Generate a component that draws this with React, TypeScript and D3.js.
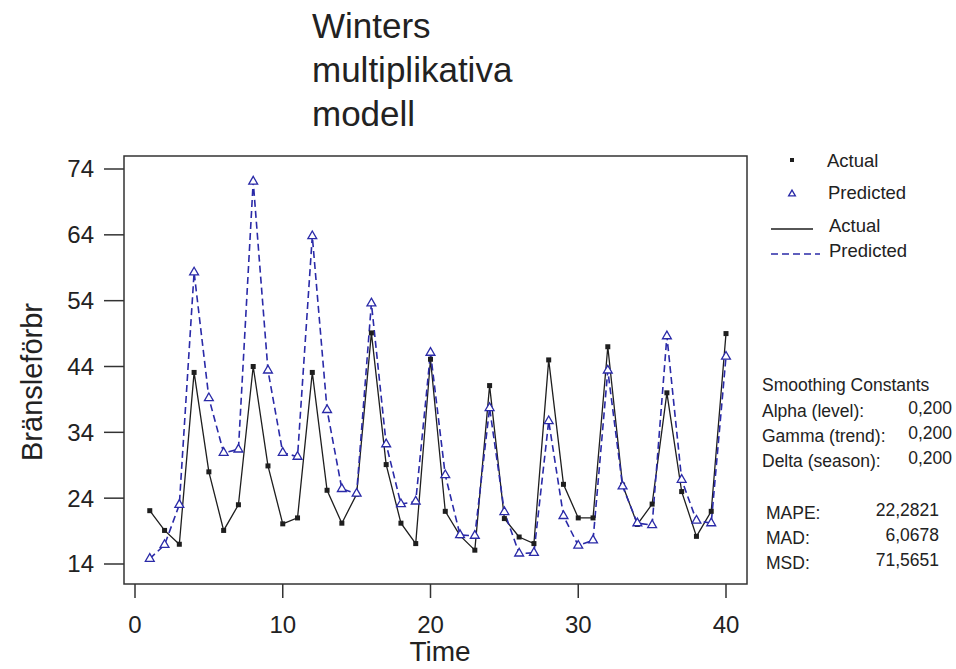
import React from "react";
import * as d3 from "d3";

const times = d3.range(1, 41);
const actual = [
  22.1, 19.1, 17.0, 43.1, 28.0, 19.1, 23.0, 44.0, 28.9, 20.1,
  21.0, 43.1, 25.2, 20.2, 24.6, 49.1, 29.1, 20.2, 17.1, 45.1,
  22.0, 18.3, 16.1, 41.1, 20.9, 18.1, 17.1, 45.0, 26.1, 21.0,
  21.0, 47.0, 26.0, 20.0, 23.1, 40.0, 25.0, 18.2, 22.0, 49.0,
];
const predicted = [
  14.8, 16.9, 23.0, 58.3, 39.2, 30.9, 31.4, 72.1, 43.4, 30.9,
  30.3, 63.8, 37.4, 25.4, 24.7, 53.6, 32.2, 23.1, 23.5, 46.1,
  27.5, 18.4, 18.3, 37.7, 21.9, 15.6, 15.7, 35.7, 21.3, 16.8,
  17.6, 43.4, 25.8, 20.2, 19.9, 48.6, 26.8, 20.6, 20.2, 45.5,
];
const yTicks = [14, 24, 34, 44, 54, 64, 74];
const xTicks = [0, 10, 20, 30, 40];
const titleLines = ["Winters", "multiplikativa", "modell"];
const legendItems = ["Actual", "Predicted", "Actual", "Predicted"];
const constLabels = ["Alpha (level):", "Gamma (trend):", "Delta (season):"];
const constValues = ["0,200", "0,200", "0,200"];
const accLabels = ["MAPE:", "MAD:", "MSD:"];
const accValues = ["22,2821", "6,0678", "71,5651"];

const FONT = "Liberation Sans, Arial, sans-serif";
const BLUE = "#2a2aa8";
const DARK = "#1e1e1e";

export default function App() {
  const frame = { left: 124, right: 747, top: 156, bottom: 584 };
  const x = d3.scaleLinear().domain([0, 40]).range([135, 726]);
  const y = d3.scaleLinear().domain([14, 74]).range([564, 169]);

  const lineA = d3
    .line<number>()
    .x((_, i) => x(times[i]))
    .y((d) => y(d));
  const pathA = lineA(actual) || "";
  const pathP = lineA(predicted) || "";

  const tri = d3.symbol().type(d3.symbolTriangle).size(34)() || "";

  return (
    <svg
      width={956}
      height={669}
      style={{ position: "absolute", left: 0, top: 0, background: "#fff" }}
      fontFamily={FONT}
    >
      <rect width={956} height={669} fill="#fff" />
      {/* title */}
      {titleLines.map((t, i) => (
        <text key={i} x={312} y={38 + i * 44} fontSize={35} fill="#222">
          {t}
        </text>
      ))}

      {/* frame */}
      <rect
        x={frame.left}
        y={frame.top}
        width={frame.right - frame.left}
        height={frame.bottom - frame.top}
        fill="none"
        stroke="#333"
        strokeWidth={1.5}
      />

      {/* y axis */}
      {yTicks.map((t) => (
        <g key={t}>
          <line x1={frame.left - 20} x2={frame.left} y1={y(t)} y2={y(t)} stroke="#333" strokeWidth={1.5} />
          <text x={frame.left - 30} y={y(t)} dy="0.35em" textAnchor="end" fontSize={24} fill="#222">
            {t}
          </text>
        </g>
      ))}
      <text
        transform={`translate(42,${(frame.top + frame.bottom) / 2 + 12}) rotate(-90)`}
        textAnchor="middle"
        fontSize={29}
        fill="#222"
      >
        Bränsleförbr
      </text>

      {/* x axis */}
      {xTicks.map((t) => (
        <g key={t}>
          <line x1={x(t)} x2={x(t)} y1={frame.bottom} y2={frame.bottom + 14} stroke="#333" strokeWidth={1.5} />
          <text x={x(t)} y={frame.bottom + 49} textAnchor="middle" fontSize={24} fill="#222">
            {t}
          </text>
        </g>
      ))}
      <text x={440} y={661} textAnchor="middle" fontSize={28} fill="#222">
        Time
      </text>

      {/* series */}
      <path d={pathA} fill="none" stroke={DARK} strokeWidth={1.3} />
      <path d={pathP} fill="none" stroke={BLUE} strokeWidth={1.6} strokeDasharray="7,4" />
      {actual.map((v, i) => (
        <rect key={"a" + i} x={x(times[i]) - 2.5} y={y(v) - 2.5} width={5} height={5} fill={DARK} />
      ))}
      {predicted.map((v, i) => (
        <path
          key={"p" + i}
          d={tri}
          transform={`translate(${x(times[i])},${y(v)})`}
          fill="#fff"
          stroke={BLUE}
          strokeWidth={1.3}
        />
      ))}

      {/* legend */}
      <g fontSize={18.5} fill="#222">
        <rect x={790} y={158} width={4} height={4} fill={DARK} />
        <text x={827} y={167}>{legendItems[0]}</text>
        <path d={d3.symbol().type(d3.symbolTriangle).size(20)() || ""} transform="translate(792,194)" fill="#fff" stroke={BLUE} strokeWidth={1.3} />
        <text x={828} y={199}>{legendItems[1]}</text>
        <line x1={771} x2={813} y1={229} y2={229} stroke={DARK} strokeWidth={1.3} />
        <text x={829} y={232}>{legendItems[2]}</text>
        <line x1={771} x2={820} y1={254} y2={254} stroke={BLUE} strokeWidth={1.6} strokeDasharray="7,4" />
        <text x={829} y={257}>{legendItems[3]}</text>
      </g>

      {/* statistics */}
      <g fontSize={17.5} fill="#222">
        <text x={762} y={391}>Smoothing Constants</text>
        {constLabels.map((l, i) => (
          <g key={l}>
            <text x={762} y={417 + i * 25}>{l}</text>
            <text x={952} y={414 + i * 25} textAnchor="end">{constValues[i]}</text>
          </g>
        ))}
        {accLabels.map((l, i) => (
          <g key={l}>
            <text x={766} y={519 + i * 25}>{l}</text>
            <text x={939} y={516 + i * 25} textAnchor="end">{accValues[i]}</text>
          </g>
        ))}
      </g>
    </svg>
  );
}
